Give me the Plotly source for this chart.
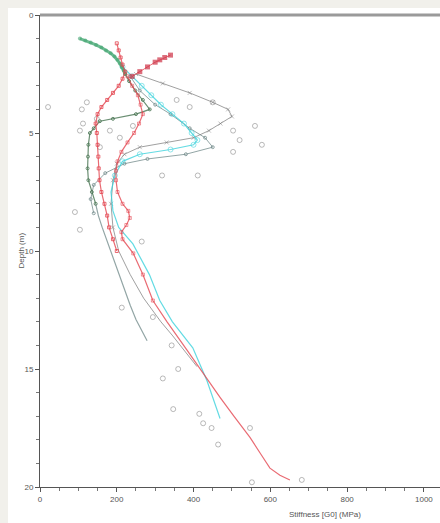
import plotly.graph_objects as go

# ---------------- data (stiffness G0 in MPa, depth in m) ----------------
green_top_g = [104, 118, 132, 146, 160, 172, 184, 194, 202, 208, 213, 218, 222]
green_top_d = [1.0, 1.08, 1.17, 1.27, 1.38, 1.5, 1.62, 1.76, 1.9, 2.05, 2.2, 2.35, 2.5]

dkgreen_g = [222, 232, 248, 268, 286, 250, 190, 156, 140, 130, 126, 125, 124, 126, 135, 145]
dkgreen_d = [2.5, 2.8, 3.2, 3.6, 4.0, 4.2, 4.4, 4.5, 4.8, 5.0, 5.5, 6.0, 6.5, 7.0, 7.5, 8.0]

teal_g = [145, 152, 162, 175, 190, 205, 220, 235, 250, 265, 279]
teal_d = [8.0, 8.5, 9.0, 9.6, 10.3, 11.0, 11.7, 12.3, 12.9, 13.4, 13.8]

cyan_g = [215, 240, 265, 290, 315, 345, 375, 395, 410, 400, 340, 260, 215, 195, 185, 190, 205, 242,
          285, 312, 345, 398, 435, 469]
cyan_d = [2.2, 2.6, 3.0, 3.4, 3.8, 4.2, 4.6, 5.0, 5.3, 5.5, 5.7, 5.9, 6.2, 6.8, 7.5, 8.3, 9.0, 9.7,
          11.0, 12.1, 13.0, 14.1, 15.5, 17.1]

gray_g = [250, 320, 390, 450, 490, 500, 470, 440, 400, 330, 260, 220, 200, 190, 185, 190, 205,
          235, 270, 315, 346, 409]
gray_d = [2.5, 2.9, 3.3, 3.7, 4.0, 4.3, 4.6, 4.9, 5.2, 5.4, 5.6, 5.9, 6.3, 7.0, 8.0, 9.0, 10.0,
          11.0, 12.0, 13.0, 13.6, 14.9]

slate_g = [235, 260, 300, 340, 390, 430, 450, 380, 280, 220, 170, 140, 132, 140]
slate_d = [2.6, 3.2, 3.8, 4.2, 4.8, 5.2, 5.6, 5.9, 6.1, 6.3, 6.7, 7.2, 7.8, 8.4]

redA_g = [200, 205, 210, 215, 222, 215, 205, 190, 175, 160, 150, 145, 148, 150, 152, 153, 155,
          160, 168, 175, 180, 190, 200]
redA_d = [1.2, 1.5, 1.8, 2.1, 2.4, 2.7, 3.0, 3.3, 3.6, 3.9, 4.2, 4.6, 5.0, 5.5, 6.0, 6.5, 7.0,
          7.5, 8.0, 8.5, 9.0, 9.5, 10.0]

redB_g = [228, 240, 255, 262, 268, 258, 245, 228, 212, 202, 198, 198, 202, 215, 230, 234, 225,
          212, 215, 243, 268, 294, 331, 383, 425, 469, 505, 547, 575, 599, 625, 651]
redB_d = [2.6, 3.0, 3.4, 3.8, 4.2, 4.6, 5.0, 5.4, 5.8, 6.2, 6.6, 7.0, 7.5, 8.0, 8.3, 8.6, 8.9,
          9.2, 9.5, 10.1, 11.0, 12.1, 13.0, 14.2, 15.2, 16.2, 17.0, 17.9, 18.6, 19.2, 19.5, 19.7]

redC_g = [340, 325, 312, 300, 280, 260, 240]
redC_d = [1.7, 1.8, 1.9, 2.0, 2.2, 2.4, 2.6]

pts_g = [21, 122, 109, 148, 112, 104, 182, 208, 242, 156, 91, 104, 265, 213, 294, 343, 320, 360,
         347, 415, 425, 447, 464, 547, 552, 682, 450, 390, 356, 503, 503, 560, 578, 318, 411, 520]
pts_d = [3.9, 3.7, 4.0, 4.4, 4.6, 4.9, 4.9, 5.2, 4.7, 5.6, 8.35, 9.1, 9.6, 12.4, 12.8, 14.0, 15.4,
         15.0, 16.7, 16.9, 17.3, 17.5, 18.2, 17.5, 19.8, 19.7, 3.7, 3.9, 3.6, 4.9, 5.8, 4.7, 5.5,
         6.8, 6.8, 5.3]

x_ticks = [0, 200, 400, 600, 800, 1000]
y_ticks = [0, 5, 10, 15, 20]

# ---------------- figure ----------------
fig = go.Figure()

RED = "rgba(228,70,80,0.8)"
CYAN = "rgba(60,210,220,0.8)"
GRAY = "rgba(120,120,120,0.7)"
DKGREEN = "rgba(70,115,80,0.8)"
SLATE = "rgba(110,135,135,0.75)"


def sizes(depths, cutoff, s):
    return [s if d <= cutoff else 0 for d in depths]


fig.add_trace(go.Scatter(x=pts_g, y=pts_d, mode="markers",
                         marker=dict(symbol="circle-open", size=5, color="rgba(130,130,130,0.55)",
                                     line=dict(width=1)), showlegend=False))
fig.add_trace(go.Scatter(x=slate_g, y=slate_d, mode="lines+markers",
                         line=dict(color=SLATE, width=1),
                         marker=dict(symbol="circle-open", size=3, color=SLATE), showlegend=False))
fig.add_trace(go.Scatter(x=gray_g, y=gray_d, mode="lines+markers",
                         line=dict(color=GRAY, width=1),
                         marker=dict(symbol="x-thin-open", size=sizes(gray_d, 9, 4), color=GRAY,
                                     line=dict(width=1)),
                         showlegend=False))
fig.add_trace(go.Scatter(x=cyan_g, y=cyan_d, mode="lines+markers",
                         line=dict(color=CYAN, width=1.2),
                         marker=dict(symbol="circle-open", size=sizes(cyan_d, 7, 5), color=CYAN),
                         showlegend=False))
fig.add_trace(go.Scatter(x=teal_g, y=teal_d, mode="lines",
                         line=dict(color=SLATE, width=1.2), showlegend=False))
fig.add_trace(go.Scatter(x=dkgreen_g, y=dkgreen_d, mode="lines+markers",
                         line=dict(color=DKGREEN, width=1.2),
                         marker=dict(symbol="circle-open", size=3, color=DKGREEN), showlegend=False))
fig.add_trace(go.Scatter(x=green_top_g, y=green_top_d, mode="lines+markers",
                         line=dict(color="rgba(60,165,110,0.75)", width=3),
                         marker=dict(symbol="circle", size=4, color="rgba(70,165,115,0.6)"),
                         showlegend=False))
fig.add_trace(go.Scatter(x=redA_g, y=redA_d, mode="lines+markers",
                         line=dict(color=RED, width=1.2),
                         marker=dict(symbol="square-open", size=3, color=RED), showlegend=False))
fig.add_trace(go.Scatter(x=redB_g, y=redB_d, mode="lines+markers",
                         line=dict(color=RED, width=1.2),
                         marker=dict(symbol="square-open", size=sizes(redB_d, 12.5, 3), color=RED),
                         showlegend=False))
fig.add_trace(go.Scatter(x=redC_g, y=redC_d, mode="lines+markers",
                         line=dict(color=RED, width=1),
                         marker=dict(symbol="square", size=5, color="rgba(205,50,70,0.7)"),
                         showlegend=False))

fig.add_shape(type="rect", xref="paper", yref="paper", x0=-0.08, x1=1.0, y0=-0.08, y1=1.0148,
              fillcolor="white", line=dict(width=0), layer="below")
fig.add_shape(type="line", xref="paper", yref="paper", x0=0, x1=1.0, y0=1.0, y1=1.0,
              line=dict(color="#9a9a9a", width=3))

fig.add_annotation(text="Stiffness [G0] (MPa)", x=742, xref="x", y=-0.045, yref="paper",
                   showarrow=False, yanchor="top", font=dict(size=8, color="#555"))
fig.add_annotation(text="Depth (m)", x=-0.065, xref="paper", y=0.5, yref="paper",
                   showarrow=False, textangle=-90, font=dict(size=8, color="#555"))

fig.update_layout(
    width=440, height=523,
    margin=dict(l=40, r=0, t=15, b=36),
    paper_bgcolor="#f1f0eb", plot_bgcolor="white",
    font=dict(family="Liberation Sans, Arial, sans-serif", size=8, color="#555"),
    xaxis=dict(range=[0, 1042], tickvals=x_ticks, ticktext=[str(v) for v in x_ticks],
               ticks="outside", ticklen=4, tickcolor="#555", showgrid=False, zeroline=False,
               showline=True, linecolor="#555", linewidth=1,
               minor=dict(dtick=50, ticks="outside", ticklen=3, tickcolor="#777")),
    yaxis=dict(range=[20, 0], tickvals=y_ticks, ticktext=[str(v) for v in y_ticks],
               ticks="outside", ticklen=4, tickcolor="#555", showgrid=False, zeroline=False,
               showline=True, linecolor="#555", linewidth=1,
               minor=dict(dtick=1, ticks="outside", ticklen=3, tickcolor="#777")),
)

fig.write_html("out.html")
